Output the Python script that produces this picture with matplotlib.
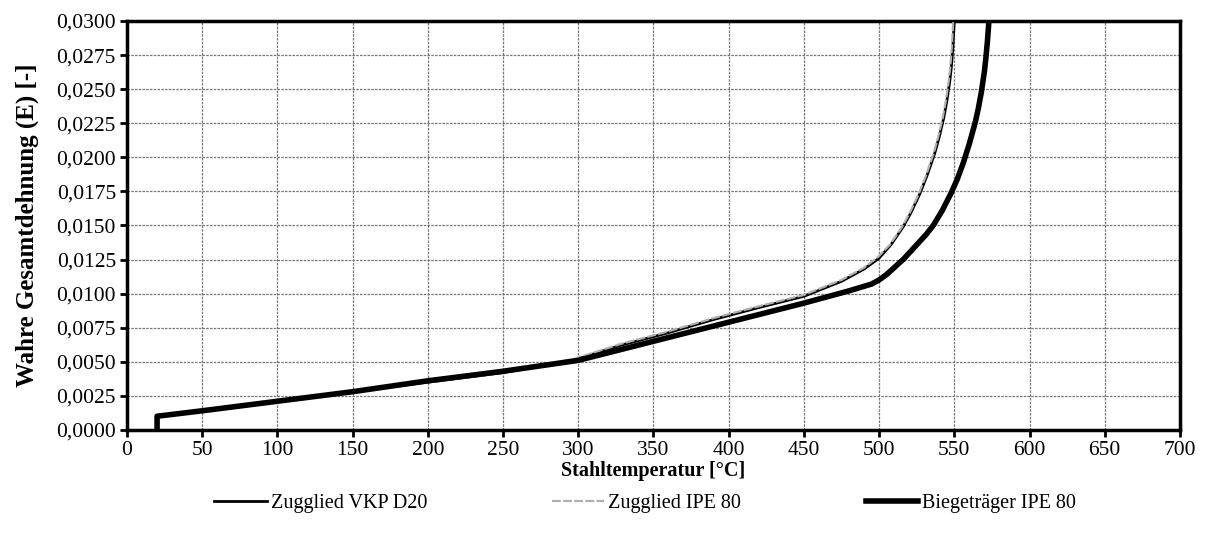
import numpy as np
import matplotlib
matplotlib.use("Agg")
import matplotlib.pyplot as plt
from matplotlib.ticker import FuncFormatter, MultipleLocator

plt.rcParams['font.family'] = ['Liberation Serif', 'DejaVu Serif']

# Stahltemperatur [°C] / wahre Gesamtdehnung [-]
temp_vkp = [20, 20, 50, 100, 150, 200, 250, 297, 328, 359, 390, 421, 450, 475, 490, 500,
            508, 516, 521, 527, 532, 537, 540, 543, 545, 547, 548, 549, 550]
eps_vkp = [0.0, 0.0010, 0.0014, 0.0021, 0.0028, 0.0035, 0.0042, 0.0051, 0.0062, 0.0071,
           0.0081, 0.0090, 0.0098, 0.0109, 0.0118, 0.0126, 0.0136, 0.0149, 0.0159, 0.0173,
           0.0187, 0.0203, 0.0215, 0.0229, 0.0241, 0.0256, 0.0266, 0.0280, 0.0300]

temp_ipe = [20, 20, 50, 100, 150, 200, 250, 297, 328, 359, 390, 421, 450, 475, 490, 499.4,
            507.3, 515.3, 520.3, 526.3, 531.3, 536.3, 539.3, 542.3, 544.3, 546.3, 547.3,
            548.3, 549.3]
eps_ipe = [0.0, 0.0010, 0.0014, 0.0021, 0.0028, 0.0035, 0.0042, 0.0052, 0.0063, 0.0072,
           0.0082, 0.0091, 0.0099, 0.0110, 0.0119, 0.0127, 0.0136, 0.0149, 0.0159, 0.0173,
           0.0187, 0.0203, 0.0215, 0.0229, 0.0241, 0.0256, 0.0266, 0.0280, 0.0300]

temp_bieg = [20, 20, 50, 100, 150, 200, 250, 300, 350, 400, 450, 480, 495, 500, 505, 510,
             516, 521, 526, 531, 536, 542, 548, 552, 556, 560, 564, 566, 568, 570, 571,
             572, 573]
eps_bieg = [0.0, 0.0010, 0.0014, 0.0021, 0.0028, 0.0036, 0.0043, 0.0051, 0.0065, 0.0079,
            0.0093, 0.0102, 0.0107, 0.0110, 0.0114, 0.0119, 0.0125, 0.0131, 0.0137, 0.0143,
            0.0150, 0.0161, 0.0174, 0.0184, 0.0196, 0.0210, 0.0226, 0.0236, 0.0248,
            0.0263, 0.0273, 0.0285, 0.0300]

labels = ['Zugglied VKP D20', 'Zugglied IPE 80', 'Biegeträger IPE 80']


def comma(v, pos):
    return f"{v:.4f}".replace('.', ',')


def main():
    fig = plt.figure(figsize=(12.06, 5.34), dpi=100)
    ax = fig.add_axes([0.1053, 0.195, 0.8731, 0.7657])

    l1, = ax.plot(temp_vkp, eps_vkp, color='black', lw=2.0, zorder=3)
    l2, = ax.plot(temp_ipe, eps_ipe, color='#b0b0b0', lw=1.6, linestyle=(0, (4, 1)), zorder=4)
    l3, = ax.plot(temp_bieg, eps_bieg, color='black', lw=4.0, zorder=5,
                  solid_joinstyle='round')

    ax.set_xlim(0, 700)
    ax.set_ylim(0, 0.03)
    ax.xaxis.set_major_locator(MultipleLocator(50))
    ax.yaxis.set_major_locator(MultipleLocator(0.0025))
    ax.yaxis.set_major_formatter(FuncFormatter(comma))

    ax.grid(True, color='#777777', lw=0.9, linestyle=(0, (2, 1)))
    ax.set_axisbelow(True)
    for s in ax.spines.values():
        s.set_linewidth(2.5)
    ax.tick_params(direction='out', length=5, width=2, labelsize=15.5, pad=3)

    ax.set_xlabel('Stahltemperatur [°C]', fontsize=14.5, fontweight='bold', labelpad=1)
    ax.set_ylabel('Wahre Gesamtdehnung (E) [-]', fontsize=18, fontweight='bold', labelpad=12)

    fig.legend([l1, l2, l3], labels, loc='center', bbox_to_anchor=(0.535, 0.058), ncol=3,
               frameon=False, fontsize=14.5, columnspacing=6.2, handlelength=2.6,
               handletextpad=0.2)

    fig.savefig('out.png', dpi=100)


if __name__ == '__main__':
    main()
